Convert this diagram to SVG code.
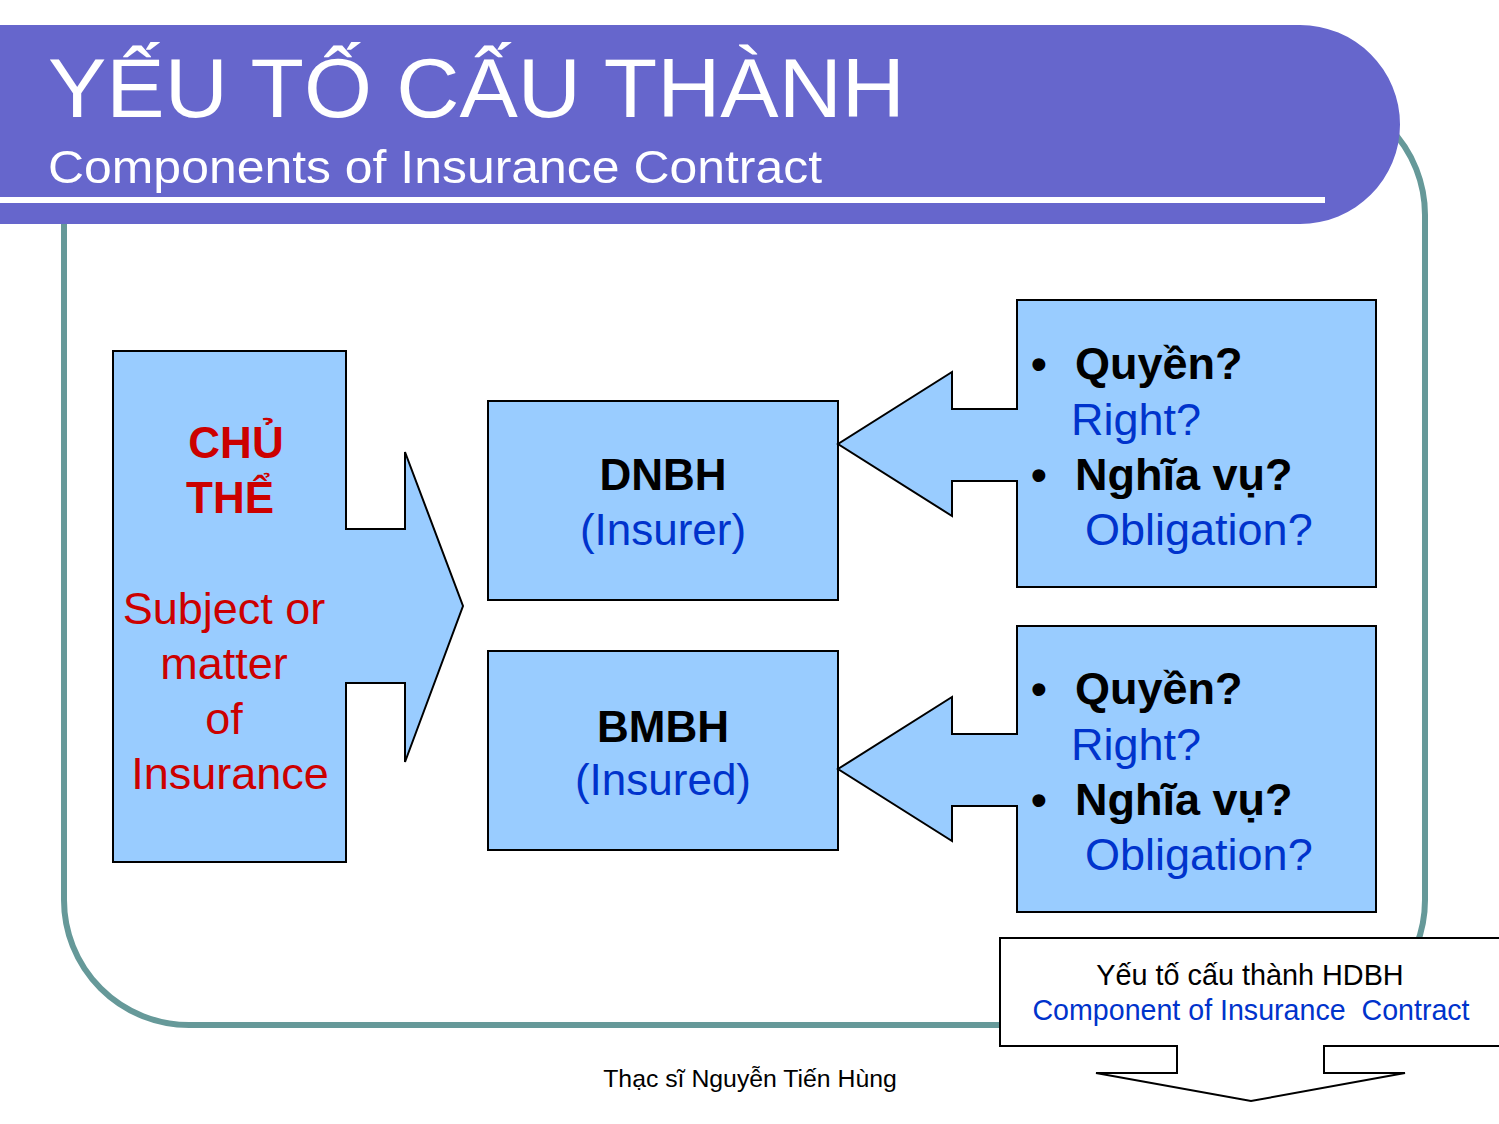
<svg xmlns="http://www.w3.org/2000/svg" width="1499" height="1124" viewBox="0 0 1499 1124">
<style>
text{font-family:"Liberation Sans",Arial,sans-serif}
.shape{fill:#99CCFF;stroke:#000;stroke-width:2}
.b{font-weight:bold;fill:#000}
.blue{fill:#0033CC}
.red{fill:#CC0000}
.m{text-anchor:middle}
.t44{font-size:44px}
.t45{font-size:45px}
</style>
<rect width="1499" height="1124" fill="#fff"/>
<g id="frame">
<rect x="64" y="90" width="1361" height="935" rx="125" ry="125" fill="none" stroke="#669999" stroke-width="6"/>
</g>
<g id="titlebar">
<path d="M0,25 H1300 A100,99.5 0 0 1 1300,224 H0 Z" fill="#6666CC"/>
<rect x="0" y="197" width="1325" height="6" fill="#fff"/>
<text x="48" y="117" font-size="84" fill="#fff" textLength="857" lengthAdjust="spacingAndGlyphs">YẾU TỐ CẤU THÀNH</text>
<text x="48" y="183" font-size="47" fill="#fff" textLength="774" lengthAdjust="spacingAndGlyphs">Components of Insurance Contract</text>
</g>
<g id="connectors"></g>
<g id="subject">
<path class="shape" d="M113,351 H346 V529 H405 V452 L463,606 L405,762 V683 H346 V862 H113 Z"/>
<text class="b red m t44" x="236" y="458">CHỦ</text>
<text class="b red m t44" x="230" y="513">THỂ</text>
<text class="red m t45" x="224" y="624">Subject or</text>
<text class="red m t45" x="224" y="679">matter</text>
<text class="red m t45" x="224" y="734">of</text>
<text class="red m t45" x="230" y="789">Insurance</text>
</g>
<g id="dnbh">
<rect class="shape" x="488" y="401" width="350" height="199"/>
<text class="b m t44" x="663" y="490">DNBH</text>
<text class="blue m t44" x="663" y="545">(Insurer)</text>
</g>
<g id="bmbh">
<rect class="shape" x="488" y="651" width="350" height="199"/>
<text class="b m t44" x="663" y="742">BMBH</text>
<text class="blue m t44" x="663" y="795">(Insured)</text>
</g>
<g id="rights-insurer">
<path class="shape" d="M1017,300 H1376 V587 H1017 V481 H952 V516 L838,444 L952,372 V409 H1017 Z"/>
<text class="b t45" x="1031" y="379">•</text>
<text class="b t45" x="1075" y="379">Quyền?</text>
<text class="blue t45" x="1071" y="435">Right?</text>
<text class="b t45" x="1031" y="490">•</text>
<text class="b t45" x="1075" y="490">Nghĩa vụ?</text>
<text class="blue t45" x="1085" y="545">Obligation?</text>
</g>
<g id="rights-insured">
<path class="shape" d="M1017,626 H1376 V912 H1017 V806 H952 V841 L838,769 L952,697 V734 H1017 Z"/>
<text class="b t45" x="1031" y="704">•</text>
<text class="b t45" x="1075" y="704">Quyền?</text>
<text class="blue t45" x="1071" y="760">Right?</text>
<text class="b t45" x="1031" y="815">•</text>
<text class="b t45" x="1075" y="815">Nghĩa vụ?</text>
<text class="blue t45" x="1085" y="870">Obligation?</text>
</g>
<g id="summary">
<path d="M1000,938 H1510 V1046 H1324 V1073 H1405 L1251,1101 L1096,1073 H1177 V1046 H1000 Z" fill="#fff" stroke="#000" stroke-width="2"/>
<text class="m" x="1250" y="985" font-size="28.8" fill="#000">Yếu tố cấu thành HDBH</text>
<text class="m blue" x="1251" y="1020" font-size="28.6" xml:space="preserve">Component of Insurance  Contract</text>
</g>
<g id="footer">
<text class="m" x="750" y="1087" font-size="24.8" fill="#000">Thạc sĩ Nguyễn Tiến Hùng</text>
</g>
</svg>
